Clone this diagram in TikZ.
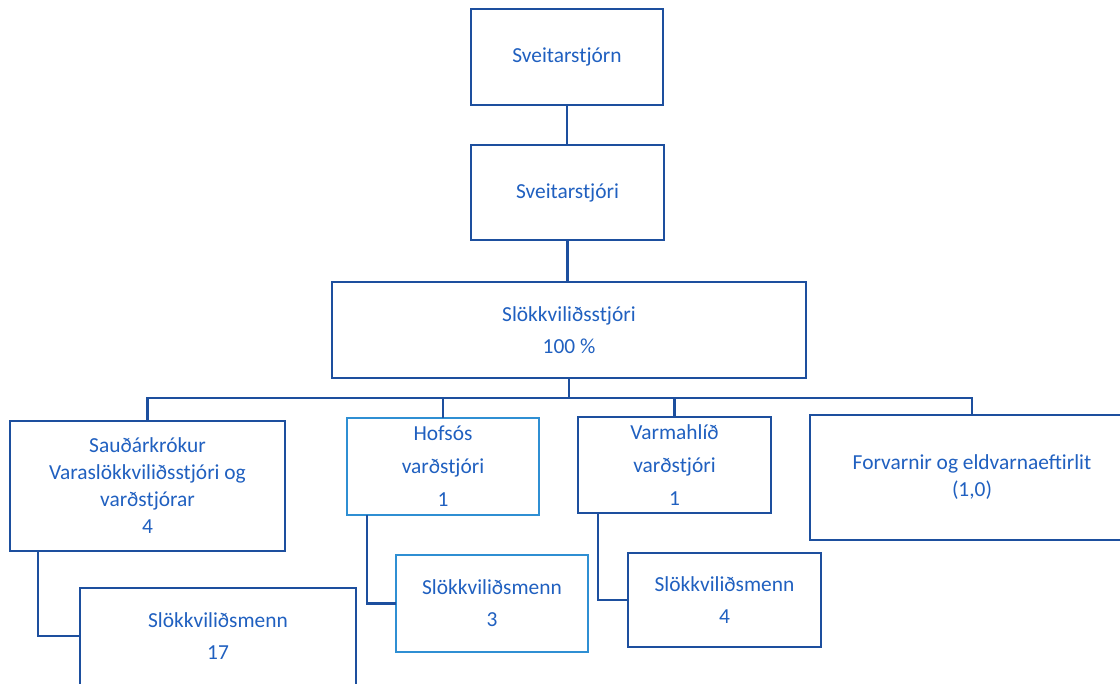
\documentclass[tikz,border=0pt]{standalone}
\usepackage{fontspec}
\setmainfont{Carlito}
\definecolor{boxdark}{HTML}{1D4F9E}
\definecolor{boxlight}{HTML}{2F8FD3}
\definecolor{txtblue}{HTML}{2060C0}
\begin{document}
\begin{tikzpicture}[x=0.5pt,y=-0.5pt,
  box/.style={draw=boxdark, line width=1.4pt, fill=white, inner sep=0pt, outer sep=0pt,
    align=center, text=txtblue, font=\fontsize{10.7}{16}\selectfont},
  lightbox/.style={box, draw=boxlight},
  txt/.style={inner sep=0pt, align=center, text=txtblue, font=\fontsize{10.7}{16}\selectfont},
  conn/.style={draw=boxdark, line width=1.4pt}]
\useasboundingbox (0,0) rectangle (1120,684);
\coordinate (barL) at (147.5,398);
% nodes
\node[box, minimum width=96pt, minimum height=48pt] (sveitarstjorn) at (567,57) {Sveitarstjórn};
\node[box, minimum width=96.5pt, minimum height=47.5pt] (sveitarstjori) at (567.5,192.5) {Sveitarstjóri};
\node[box, minimum width=237pt, minimum height=48pt] (slokk) at (569,330) {Slökkviliðsstjóri\\100 \%};
\node[box, minimum width=137.5pt, minimum height=65pt, font=\fontsize{10.7}{13.5}\selectfont] (saud) at (147.5,486) {Sauðárkrókur\\Varaslökkviliðsstjóri og\\varðstjórar\\4};
\node[box, minimum width=138pt, minimum height=96pt] (sm17) at (218,684) {};
\node[txt] (sm17t) at (218,636) {Slökkviliðsmenn\\17};
\node[lightbox, minimum width=96pt, minimum height=48.5pt, font=\fontsize{10.7}{16.5}\selectfont] (hofsos) at (443,466.5) {Hofsós\\varðstjóri\\1};
\node[lightbox, minimum width=96pt, minimum height=48.5pt] (sm3) at (492,603.5) {Slökkviliðsmenn\\3};
\node[box, minimum width=96.5pt, minimum height=48pt, font=\fontsize{10.7}{16.5}\selectfont] (varm) at (674.5,465) {Varmahlíð\\varðstjóri\\1};
\node[box, minimum width=96.5pt, minimum height=47pt] (sm4) at (724.5,600) {Slökkviliðsmenn\\4};
\node[box, minimum width=162pt, minimum height=62.5pt, font=\fontsize{10.7}{13.5}\selectfont] (forv) at (972,477.5) {Forvarnir og eldvarnaeftirlit\\(1,0)};
% connectors
\draw[conn] (sveitarstjorn.south) -- (sveitarstjorn.south |- sveitarstjori.north);
\draw[conn] (sveitarstjori.south) -- (sveitarstjori.south |- slokk.north);
\draw[conn] (slokk.south) -- (slokk.south |- barL);
\draw[conn] (saud.north) -- (saud.north |- barL) -- (forv.north |- barL) -- (forv.north);
\draw[conn] (hofsos.north |- barL) -- (hofsos.north);
\draw[conn] (varm.north |- barL) -- (varm.north);
\draw[conn] ([xshift=14pt]saud.south west) |- (sm17.west |- sm17t);
\draw[conn] ([xshift=10pt]hofsos.south west) |- (sm3.west);
\draw[conn] ([xshift=10pt]varm.south west) |- (sm4.west);
\end{tikzpicture}
\end{document}
